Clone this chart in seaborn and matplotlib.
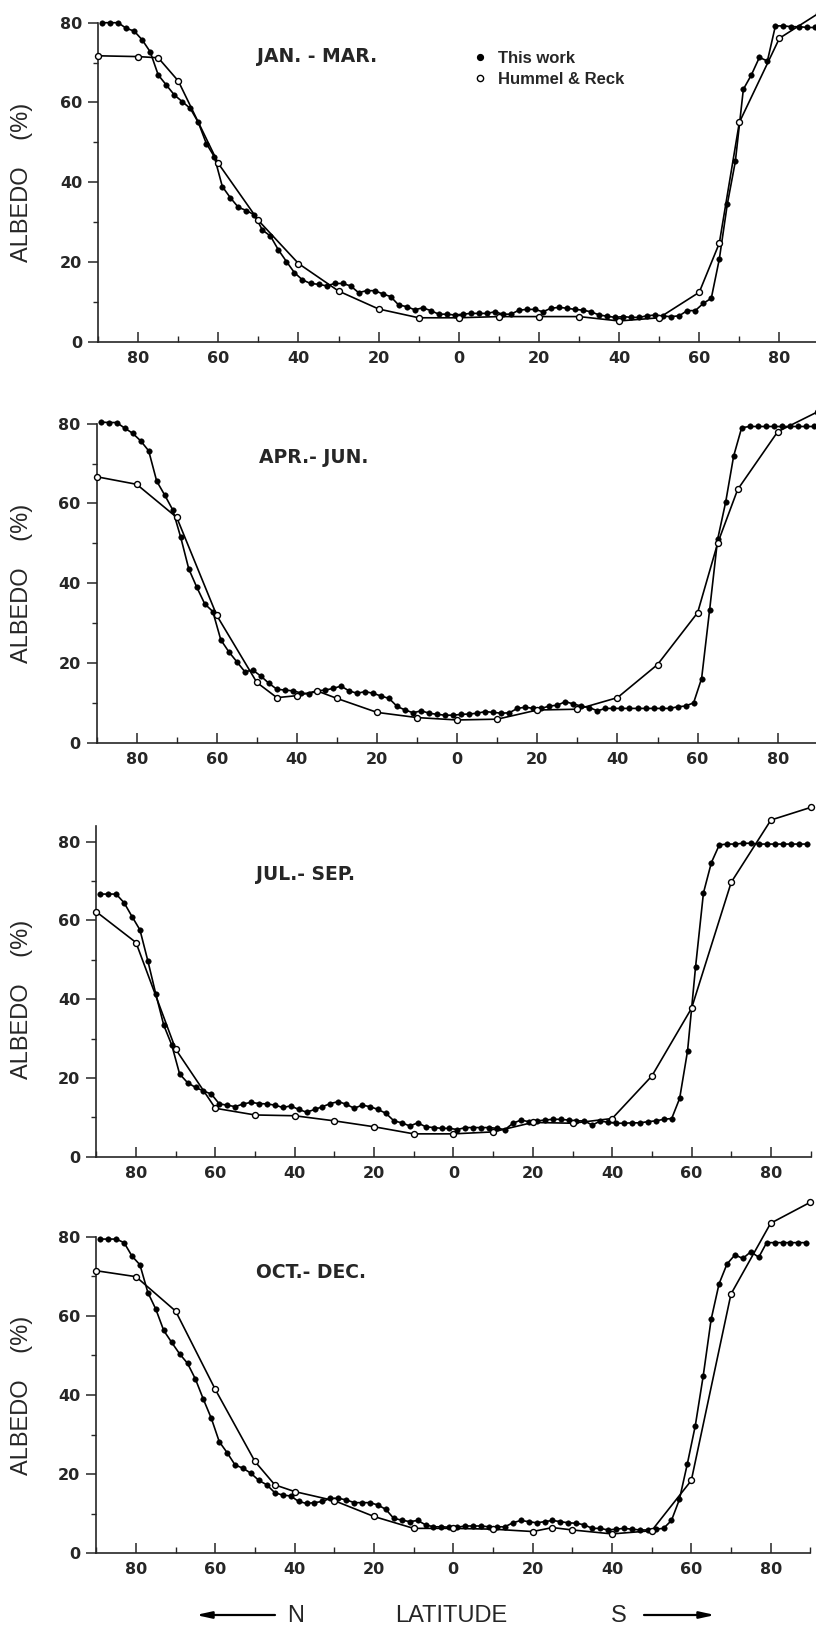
import numpy as np
import matplotlib
matplotlib.use("Agg")
import matplotlib.pyplot as plt
from matplotlib.lines import Line2D
from matplotlib.ticker import FuncFormatter, FixedLocator
from matplotlib.font_manager import FontProperties
import seaborn as sns

# ---------------- data ----------------
lat_this = np.arange(-89, 90, 2)  # 2-degree latitude bands (centres), N negative, S positive

jan_mar_this = [80.0, 80.0, 80.0, 78.6, 77.9, 75.7, 72.7, 66.9, 64.4, 61.9,
                60.2, 58.5, 55.0, 49.7, 46.4, 38.9, 36.1, 33.7, 32.9, 31.8,
                28.0, 26.5, 23.0, 20.1, 17.3, 15.5, 14.6, 14.4, 14.0, 14.6,
                14.6, 14.0, 12.3, 12.8, 12.8, 12.0, 11.3, 9.2, 8.8, 8.0,
                8.5, 7.8, 6.9, 6.9, 6.7, 6.9, 7.1, 7.1, 7.1, 7.5,
                6.9, 6.9, 7.9, 8.1, 8.1, 7.5, 8.4, 8.6, 8.4, 8.1,
                7.9, 7.5, 6.7, 6.4, 6.1, 6.3, 6.1, 6.1, 6.5, 6.7,
                6.4, 6.3, 6.5, 7.8, 7.8, 9.6, 10.9, 20.7, 34.5, 45.2,
                63.3, 66.9, 71.3, 70.4, 79.2, 79.2, 79.0, 79.0, 78.8, 78.8]
jan_mar_hr_lat = [-90, -80, -75, -70, -60, -50, -40, -30, -20, -10, 0,
                  10, 20, 30, 40, 50, 60, 65, 70, 80, 90]
jan_mar_hr = [71.7, 71.5, 71.2, 65.4, 44.7, 30.4, 19.6, 12.7, 8.2, 6.0, 6.0,
              6.3, 6.3, 6.3, 5.2, 6.0, 12.4, 24.7, 55.0, 76.1, 82.5]

apr_jun_this = [80.4, 80.3, 80.3, 78.9, 77.6, 75.7, 73.2, 65.6, 62.1, 58.4,
                51.5, 43.6, 39.0, 34.8, 32.9, 25.8, 22.8, 20.3, 17.8, 18.2,
                16.7, 14.9, 13.4, 13.2, 13.0, 12.5, 12.2, 13.0, 13.2, 13.6,
                14.2, 13.0, 12.4, 12.8, 12.4, 11.7, 11.1, 9.1, 8.2, 7.5,
                8.0, 7.4, 7.1, 6.9, 6.9, 7.1, 7.2, 7.4, 7.8, 7.6,
                7.4, 7.5, 8.6, 8.9, 8.6, 8.6, 9.2, 9.4, 10.3, 9.7,
                9.2, 8.8, 8.0, 8.6, 8.6, 8.6, 8.6, 8.6, 8.6, 8.6,
                8.6, 8.6, 9.0, 9.2, 10.0, 16.1, 33.3, 51.0, 60.3, 71.9,
                79.0, 79.3, 79.3, 79.3, 79.3, 79.3, 79.3, 79.3, 79.3, 79.3]
apr_jun_hr_lat = [-90, -80, -70, -60, -50, -45, -40, -35, -30, -20, -10, 0,
                  10, 20, 30, 40, 50, 60, 65, 70, 80, 90]
apr_jun_hr = [66.7, 64.8, 56.5, 31.9, 15.1, 11.3, 11.8, 13.0, 11.1, 7.6, 6.3, 5.7,
              5.9, 8.2, 8.4, 11.3, 19.6, 32.6, 50.0, 63.5, 78.0, 83.0]

jul_sep_this = [66.7, 66.7, 66.7, 64.5, 61.0, 57.6, 49.7, 41.3, 33.4, 28.4,
                21.0, 18.8, 17.6, 16.7, 15.9, 13.4, 13.1, 12.7, 13.4, 13.8,
                13.5, 13.4, 13.1, 12.5, 12.9, 12.0, 11.3, 12.0, 12.7, 13.5,
                14.0, 13.3, 12.3, 13.1, 12.7, 12.0, 11.0, 9.1, 8.6, 7.8,
                8.6, 7.6, 7.4, 7.2, 7.2, 6.9, 7.4, 7.4, 7.4, 7.4,
                7.2, 6.9, 8.5, 9.3, 8.9, 9.1, 9.3, 9.5, 9.5, 9.3,
                9.1, 9.1, 8.0, 9.1, 8.7, 8.5, 8.5, 8.6, 8.6, 8.9,
                9.1, 9.5, 9.7, 14.8, 26.9, 48.1, 67.0, 74.7, 79.2, 79.4,
                79.4, 79.6, 79.6, 79.4, 79.4, 79.4, 79.4, 79.4, 79.4, 79.4]
jul_sep_hr_lat = [-90, -80, -70, -60, -50, -40, -30, -20, -10, 0,
                  10, 20, 30, 40, 50, 60, 70, 80, 90]
jul_sep_hr = [62.2, 54.4, 27.3, 12.3, 10.6, 10.4, 9.1, 7.6, 5.8, 5.8,
              6.3, 8.7, 8.5, 9.7, 20.5, 37.7, 69.7, 85.5, 88.7]

oct_dec_this = [79.4, 79.4, 79.4, 78.5, 75.1, 72.9, 65.9, 61.7, 56.3, 53.3,
                50.4, 48.0, 44.0, 38.9, 34.1, 28.2, 25.4, 22.3, 21.5, 20.2,
                18.4, 17.3, 15.3, 14.7, 14.5, 13.1, 12.6, 12.8, 13.1, 13.9,
                13.9, 13.5, 12.8, 12.8, 12.8, 12.2, 11.1, 8.8, 8.4, 8.0,
                8.3, 7.2, 6.7, 6.7, 6.6, 6.6, 6.9, 6.9, 6.9, 6.7,
                6.7, 6.7, 7.7, 8.3, 8.0, 7.7, 8.0, 8.3, 8.0, 7.7,
                7.6, 7.2, 6.3, 6.3, 5.9, 6.1, 6.3, 6.1, 5.9, 5.9,
                6.1, 6.3, 8.3, 13.6, 22.6, 32.2, 44.8, 59.1, 68.1, 73.1,
                75.4, 74.5, 76.2, 74.8, 78.5, 78.5, 78.5, 78.5, 78.5, 78.5]
oct_dec_hr_lat = [-90, -80, -70, -60, -50, -45, -40, -30, -20, -10, 0,
                  10, 20, 25, 30, 40, 50, 60, 70, 80, 90]
oct_dec_hr = [71.4, 69.9, 61.2, 41.4, 23.2, 17.3, 15.6, 13.3, 9.3, 6.3, 6.3,
              6.1, 5.5, 6.5, 5.9, 4.9, 5.7, 18.4, 65.5, 83.4, 88.7]

season_titles = ["JAN. - MAR.", "APR.- JUN.", "JUL.- SEP.", "OCT.- DEC."]
x_major_ticks = [-80, -60, -40, -20, 0, 20, 40, 60, 80]
x_minor_ticks = [-90, -70, -50, -30, -10, 10, 30, 50, 70, 90]
y_major_ticks = [0, 20, 40, 60, 80]
y_minor_ticks = [10, 30, 50, 70]
legend_labels = ["This work", "Hummel & Reck"]

this_series = [jan_mar_this, apr_jun_this, jul_sep_this, oct_dec_this]
hr_lats = [jan_mar_hr_lat, apr_jun_hr_lat, jul_sep_hr_lat, oct_dec_hr_lat]
hr_series = [jan_mar_hr, apr_jun_hr, jul_sep_hr, oct_dec_hr]

# ---------------- layout (pixels in the 816x1627 image) ----------------
W, H = 816, 1627
# (x of lat -90, x of lat +90, y of value 0, y of value 80, ylim top, left spine top)
geom = [
    (98.1, 819.5, 341.7, 22.7, 86, 80),
    (96.6, 817.8, 742.7, 423.7, 86, 80),
    (96.3, 810.6, 1156.7, 841.7, 92, 84),
    (96.3, 810.3, 1553.3, 1236.7, 92, 80),
]
title_pos = [(257, 57), (259, 457.5), (256, 874), (256, 1272)]

sns.set_style("ticks")
plt.rcParams["font.family"] = ["DejaVu Sans"]
plt.rcParams["axes.linewidth"] = 1.2

fig = plt.figure(figsize=(W / 100, H / 100), dpi=100)

lw = 1.2
for i, (xl, xr, y0, y80, ytop, sp_top) in enumerate(geom):
    ppu = (y0 - y80) / 80.0
    rect = [xl / W, (H - y0) / H, (xr - xl) / W, ppu * ytop / H]
    ax = fig.add_axes(rect)

    sns.lineplot(x=lat_this, y=this_series[i], ax=ax, color="black", linewidth=lw,
                 marker="o", markersize=4.0, markerfacecolor="black",
                 markeredgecolor="black", markeredgewidth=0.3,
                 estimator=None, sort=False, clip_on=False, zorder=3)
    sns.lineplot(x=hr_lats[i], y=hr_series[i], ax=ax, color="black", linewidth=lw,
                 marker="o", markersize=4.3, markerfacecolor="white",
                 markeredgecolor="black", markeredgewidth=1.0,
                 estimator=None, sort=False, clip_on=False, zorder=4)

    ax.set_xlim(-90, 90)
    ax.set_ylim(0, ytop)
    ax.set_xlabel("")
    ax.set_ylabel("")
    for s in ["top", "right"]:
        ax.spines[s].set_visible(False)
    ax.spines["left"].set_bounds(0, sp_top)
    ax.spines["bottom"].set_bounds(-90, 90)

    ax.xaxis.set_major_locator(FixedLocator(x_major_ticks))
    ax.xaxis.set_minor_locator(FixedLocator(x_minor_ticks))
    ax.xaxis.set_major_formatter(FuncFormatter(lambda v, p: f"{abs(int(round(v)))}"))
    ax.yaxis.set_major_locator(FixedLocator(y_major_ticks))
    ax.yaxis.set_minor_locator(FixedLocator(y_minor_ticks))
    ax.yaxis.set_major_formatter(FuncFormatter(lambda v, p: f"{int(round(v))}"))

    ax.tick_params(axis="x", which="major", direction="in", length=7, width=1.1, pad=6.5)
    ax.tick_params(axis="x", which="minor", direction="in", length=4, width=1.0)
    ax.tick_params(axis="y", which="major", direction="out", length=7, width=1.1, pad=4.5)
    ax.tick_params(axis="y", which="minor", direction="out", length=3.5, width=1.0)
    for lab in ax.get_xticklabels() + ax.get_yticklabels():
        lab.set_fontweight("bold")
        lab.set_fontsize(11.5)
        lab.set_family("DejaVu Sans")

    # season title
    tx, ty = title_pos[i]
    fig.text(tx / W, 1 - ty / H, season_titles[i], ha="left", va="center",
             fontsize=13.5, fontweight="bold", family="DejaVu Sans")

    # y label
    ymid = (y0 + y80) / 2.0
    fig.text(22 / W, 1 - ymid / H, "ALBEDO    (%)", rotation=90, ha="center",
             va="center", fontsize=17, family="Liberation Sans")

    if i == 0:
        handles = [
            Line2D([], [], ls="none", marker="o", markersize=4.2, markerfacecolor="black",
                   markeredgecolor="black"),
            Line2D([], [], ls="none", marker="o", markersize=4.5, markerfacecolor="white",
                   markeredgecolor="black", markeredgewidth=1.0),
        ]
        ax.legend(handles, legend_labels, loc="upper left",
                  bbox_to_anchor=(471.7 / W, 1 - 51 / H), bbox_transform=fig.transFigure,
                  frameon=False, borderpad=0, borderaxespad=0, handlelength=1.0,
                  handletextpad=0.57, labelspacing=0.33,
                  prop=FontProperties(family="Liberation Sans", weight="bold", size=12))

# bottom latitude label with arrows
ybot = 1616
fig.text(451.5 / W, 1 - ybot / H, "LATITUDE", ha="center", va="center",
         fontsize=17, family="Liberation Sans")
fig.text(296 / W, 1 - ybot / H, "N", ha="center", va="center",
         fontsize=17, family="Liberation Sans")
fig.text(619 / W, 1 - ybot / H, "S", ha="center", va="center",
         fontsize=17, family="Liberation Sans")
arrow_style = dict(arrowstyle="-|>,head_length=0.9,head_width=0.2", lw=1.6, color="black",
                   shrinkA=0, shrinkB=0)
fig.axes[-1].annotate("", xy=(196, H - 1615), xytext=(275, H - 1615),
                      xycoords="figure pixels", textcoords="figure pixels",
                      arrowprops=arrow_style, annotation_clip=False)
fig.axes[-1].annotate("", xy=(715, H - 1615), xytext=(644, H - 1615),
                      xycoords="figure pixels", textcoords="figure pixels",
                      arrowprops=arrow_style, annotation_clip=False)

fig.savefig("out.png", dpi=100, facecolor="white")
